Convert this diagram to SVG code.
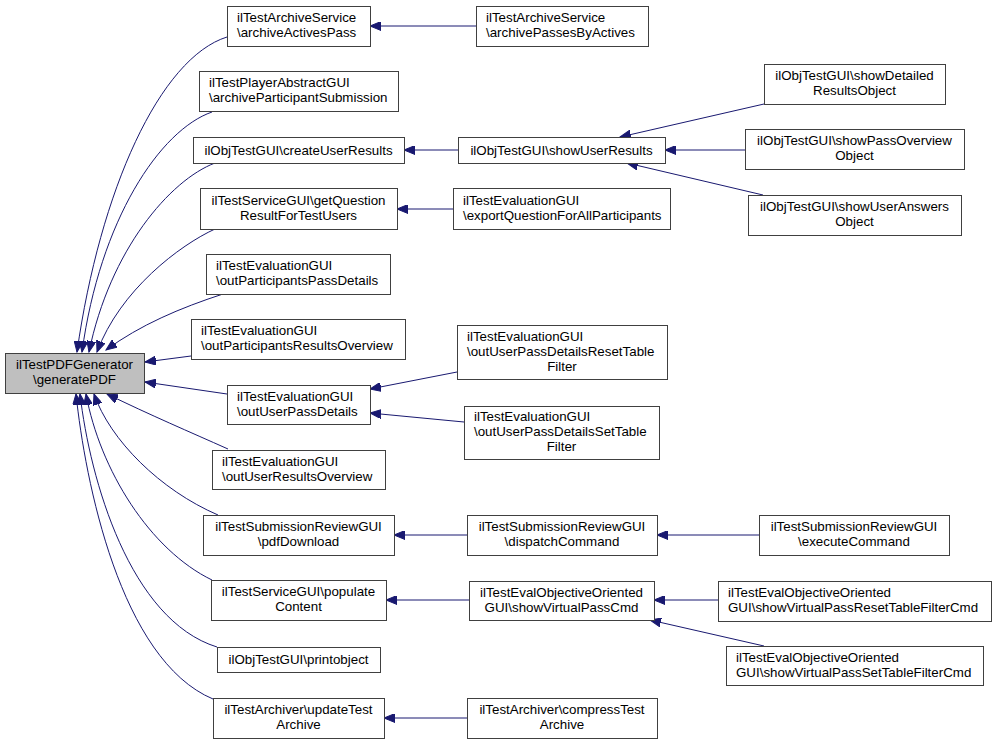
<svg xmlns="http://www.w3.org/2000/svg" width="996" height="744" viewBox="0 0 996 744">
<style>
.node rect{fill:#ffffff;stroke:#404040;stroke-width:1}
#main rect{fill:#bfbfbf}
text{font-family:"Liberation Sans",Arial,Helvetica,sans-serif;font-size:13.33px;fill:#000000}
.c{text-anchor:middle}
.edge path{fill:none;stroke:#191970;stroke-width:1;marker-end:url(#arr)}
</style>
<defs>
<marker id="arr" markerUnits="userSpaceOnUse" markerWidth="12" markerHeight="9" refX="11" refY="4.5" orient="auto">
<path d="M0,0 L11,4.5 L0,9 z" fill="#191970" stroke="#191970" stroke-width="1"/>
</marker>
</defs>
<rect width="996" height="744" fill="#ffffff"/>
<g id="connectors" class="edge">
<path d="M227,37 C160,58 100,190 77,352"/>
<path d="M212,112 C160,130 100,220 82,352"/>
<path d="M215,163 C170,180 110,250 89,352"/>
<path d="M215,229 C180,245 120,290 97,352"/>
<path d="M223,294 C180,308 140,325 106,350"/>
<path d="M191,356 L145,362"/>
<path d="M227,394 L145,382"/>
<path d="M228,449 C190,432 150,415 107,394"/>
<path d="M218,515 C160,490 110,440 94,394"/>
<path d="M212,580 C150,550 100,470 86,394"/>
<path d="M217,647 C130,620 90,480 80,394"/>
<path d="M213,699 C120,660 85,480 76,394"/>
<path d="M476,26 L370,26"/>
<path d="M458,150 L404,150"/>
<path d="M453,209 L397,209"/>
<path d="M457,372 L370,389"/>
<path d="M464,422 L370,413"/>
<path d="M467,535 L394,535"/>
<path d="M469,600 L386,600"/>
<path d="M467,718 L384,718"/>
<path d="M764,104 L620,137"/>
<path d="M745,150 L665,150"/>
<path d="M763,195 L627,163"/>
<path d="M759,535 L657,535"/>
<path d="M718,600 L654,600"/>
<path d="M764,646 L650,620"/>
</g>
<g id="main" class="node"><rect x="5.5" y="353.5" width="139" height="40"/><text class="c" x="74.5" y="369">ilTestPDFGenerator</text><text class="c" x="74.5" y="384">\generatePDF</text></g>
<g id="n1" class="node"><rect x="227.5" y="6.5" width="143" height="40"/><text x="237" y="22">ilTestArchiveService</text><text x="237" y="37">\archiveActivesPass</text></g>
<g id="n2" class="node"><rect x="199.5" y="71.5" width="199" height="40"/><text x="209" y="87">ilTestPlayerAbstractGUI</text><text x="209" y="102">\archiveParticipantSubmission</text></g>
<g id="n3" class="node"><rect x="193.5" y="137.5" width="211" height="26"/><text class="c" x="298.5" y="154.5">ilObjTestGUI\createUserResults</text></g>
<g id="n4" class="node"><rect x="200.5" y="188.5" width="197" height="41"/><text class="c" x="298.5" y="204.5">ilTestServiceGUI\getQuestion</text><text class="c" x="298.5" y="219.5">ResultForTestUsers</text></g>
<g id="n5" class="node"><rect x="206.5" y="254.5" width="184" height="40"/><text x="216" y="270">ilTestEvaluationGUI</text><text x="216" y="285">\outParticipantsPassDetails</text></g>
<g id="n6" class="node"><rect x="191.5" y="319.5" width="214" height="40"/><text x="201" y="335">ilTestEvaluationGUI</text><text x="201" y="350">\outParticipantsResultsOverview</text></g>
<g id="n7" class="node"><rect x="227.5" y="385.5" width="143" height="39"/><text x="237" y="400.5">ilTestEvaluationGUI</text><text x="237" y="415.5">\outUserPassDetails</text></g>
<g id="n8" class="node"><rect x="212.5" y="450.5" width="173" height="39"/><text x="222" y="465.5">ilTestEvaluationGUI</text><text x="222" y="480.5">\outUserResultsOverview</text></g>
<g id="n9" class="node"><rect x="203.5" y="515.5" width="191" height="40"/><text class="c" x="298.5" y="531">ilTestSubmissionReviewGUI</text><text class="c" x="298.5" y="546">\pdfDownload</text></g>
<g id="n10" class="node"><rect x="211.5" y="580.5" width="175" height="40"/><text class="c" x="298.5" y="596">ilTestServiceGUI\populate</text><text class="c" x="298.5" y="611">Content</text></g>
<g id="n11" class="node"><rect x="217.5" y="647.5" width="163" height="25"/><text class="c" x="298.5" y="664">ilObjTestGUI\printobject</text></g>
<g id="n12" class="node"><rect x="213.5" y="698.5" width="171" height="40"/><text class="c" x="298.5" y="714">ilTestArchiver\updateTest</text><text class="c" x="298.5" y="729">Archive</text></g>
<g id="m1" class="node"><rect x="476.5" y="6.5" width="172" height="40"/><text x="486" y="22">ilTestArchiveService</text><text x="486" y="37">\archivePassesByActives</text></g>
<g id="m2" class="node"><rect x="458.5" y="137.5" width="207" height="26"/><text class="c" x="561.5" y="154.5">ilObjTestGUI\showUserResults</text></g>
<g id="m3" class="node"><rect x="453.5" y="188.5" width="217" height="41"/><text x="463" y="204.5">ilTestEvaluationGUI</text><text x="463" y="219.5">\exportQuestionForAllParticipants</text></g>
<g id="m4" class="node"><rect x="457.5" y="325.5" width="210" height="54"/><text x="467" y="340.5">ilTestEvaluationGUI</text><text x="467" y="355.5">\outUserPassDetailsResetTable</text><text class="c" x="562" y="370.5">Filter</text></g>
<g id="m5" class="node"><rect x="464.5" y="406.5" width="195" height="53"/><text x="474" y="421">ilTestEvaluationGUI</text><text x="474" y="436">\outUserPassDetailsSetTable</text><text class="c" x="561.5" y="451">Filter</text></g>
<g id="m6" class="node"><rect x="467.5" y="515.5" width="190" height="40"/><text class="c" x="562" y="531">ilTestSubmissionReviewGUI</text><text class="c" x="562" y="546">\dispatchCommand</text></g>
<g id="m7" class="node"><rect x="469.5" y="581.5" width="185" height="39"/><text class="c" x="561.5" y="596.5">ilTestEvalObjectiveOriented</text><text class="c" x="561.5" y="611.5">GUI\showVirtualPassCmd</text></g>
<g id="m8" class="node"><rect x="467.5" y="698.5" width="190" height="40"/><text class="c" x="562" y="714">ilTestArchiver\compressTest</text><text class="c" x="562" y="729">Archive</text></g>
<g id="k1" class="node"><rect x="764.5" y="64.5" width="181" height="40"/><text class="c" x="854.5" y="80">ilObjTestGUI\showDetailed</text><text class="c" x="854.5" y="95">ResultsObject</text></g>
<g id="k2" class="node"><rect x="745.5" y="129.5" width="219" height="40"/><text class="c" x="854.5" y="145">ilObjTestGUI\showPassOverview</text><text class="c" x="854.5" y="160">Object</text></g>
<g id="k3" class="node"><rect x="748.5" y="195.5" width="213" height="40"/><text class="c" x="854.5" y="211">ilObjTestGUI\showUserAnswers</text><text class="c" x="854.5" y="226">Object</text></g>
<g id="k4" class="node"><rect x="759.5" y="515.5" width="190" height="40"/><text class="c" x="854" y="531">ilTestSubmissionReviewGUI</text><text class="c" x="854" y="546">\executeCommand</text></g>
<g id="k5" class="node"><rect x="718.5" y="581.5" width="273" height="40"/><text x="728" y="597">ilTestEvalObjectiveOriented</text><text x="728" y="612">GUI\showVirtualPassResetTableFilterCmd</text></g>
<g id="k6" class="node"><rect x="726.5" y="646.5" width="257" height="39"/><text x="736" y="661.5">ilTestEvalObjectiveOriented</text><text x="736" y="676.5">GUI\showVirtualPassSetTableFilterCmd</text></g>
</svg>
